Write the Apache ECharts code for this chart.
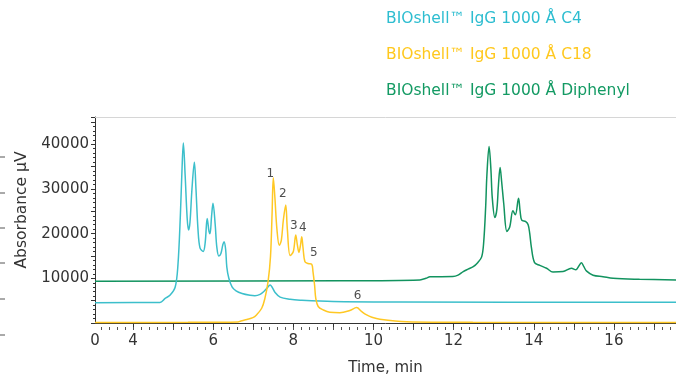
<!DOCTYPE html>
<html><head><meta charset="utf-8">
<script src="https://cdn.jsdelivr.net/npm/echarts@6/dist/echarts.min.js"></script>
<style>html,body{margin:0;padding:0;background:#fff}#c{width:676px;height:379px}</style>
</head><body><div id="c"></div>
<script>
// ---- data ----
const seriesNames = ['BIOshell™ IgG 1000 Å C4', 'BIOshell™ IgG 1000 Å C18', 'BIOshell™ IgG 1000 Å Diphenyl'];
const xTickLabels = [0, 4, 6, 8, 10, 12, 14, 16];
const yTickLabels = [10000, 20000, 30000, 40000];

const c4Time = [3.05,4.67,4.80,4.92,5.05,5.12,5.18,5.22,5.255,5.30,5.35,5.385,5.42,5.47,5.53,5.57,5.62,5.67,5.75,5.80,5.85,5.895,5.92,5.96,5.995,6.05,6.09,6.14,6.19,6.24,6.27,6.31,6.34,6.39,6.47,6.57,6.72,6.92,7.04,7.17,7.27,7.34,7.42,7.47,7.54,7.67,7.92,8.17,8.99,10.66,17.55];
const c4Abs = [4550,4600,5500,6200,8000,13000,24000,34000,40300,33000,23500,20800,22500,30000,36000,30000,21000,16800,16000,18000,23400,20500,20000,24000,26800,22000,17000,15000,15500,17500,18200,16500,12500,10000,8100,7200,6600,6200,6100,6400,7100,7800,8500,8000,6900,5800,5300,5100,4800,4700,4650];

const c18Time = [3.05,5.37,6.62,6.69,6.84,6.99,7.08,7.21,7.29,7.37,7.43,7.47,7.50,7.54,7.59,7.65,7.70,7.75,7.81,7.85,7.92,8.00,8.06,8.10,8.14,8.18,8.21,8.24,8.29,8.37,8.46,8.49,8.53,8.56,8.62,8.75,8.91,9.16,9.41,9.58,9.70,9.83,9.96,10.16,10.83,12.48,17.55];
const c18Abs = [100,150,250,450,800,1200,1800,3300,5500,9300,14900,24600,32500,28000,21000,17400,18500,23000,26400,21000,15100,16000,19700,17500,15800,17500,19300,17000,13700,13300,13100,11500,8500,5500,3700,2900,2400,2300,2800,3450,2600,1800,1300,850,300,160,130];
const peakNames = ['1','2','3','4','5','6'];
const peakIndex = [12, 18, 22, 26, 30, 39]; // indices into c18 arrays

const diTime = [3.05,9.16,11.16,11.31,11.41,11.98,12.11,12.24,12.36,12.49,12.60,12.70,12.75,12.80,12.83,12.885,12.93,12.965,13.03,13.08,13.12,13.16,13.20,13.25,13.33,13.40,13.48,13.54,13.62,13.66,13.70,13.80,13.86,13.90,13.94,14.02,14.15,14.32,14.48,14.73,14.94,15.05,15.13,15.19,15.25,15.32,15.48,15.73,15.98,16.64,17.55];
const diAbs = [9350,9450,9650,10000,10350,10400,10700,11500,12050,12600,13500,14800,18000,26000,33000,39500,34500,28000,23600,25500,31000,34800,31500,26800,20500,21500,25100,24200,27900,25000,23000,22700,22000,20000,17000,13500,12900,12250,11400,11500,12250,11900,12800,13500,12600,11600,10700,10360,10000,9780,9630];

// ---- styles ----
const colors = ['#3cbfcb', '#ffc824', '#12935f'];
const legendColors = ['#2dbdd0', '#ffc81e', '#139a63'];
const labelOffsets = [[-3,6],[-3,-2],[-2,0],[1,1],[2,-2],[1,-2]];
const FONT = 'DejaVu Sans';
const xMin = 3.05, xMax = 17.55;

function zip(a, b) { return a.map((v, i) => [v, b[i]]); }

const peakData = peakIndex.map((idx, k) => ({
  value: [c18Time[idx], c18Abs[idx]],
  label: { show: true, formatter: peakNames[k], position: 'top', distance: 3,
    offset: labelOffsets[k], color: '#222', fontSize: 12, fontFamily: FONT }
}));

const minorTicks = [];
for (let t = 3.2; t < xMax; t += 0.2) minorTicks.push(Math.round(t * 10) / 10);
const majorTicks = [];
for (let t = 4; t <= 17; t++) majorTicks.push(t);
const xLabelVals = xTickLabels.map(v => v === 0 ? xMin : v);

const chart = echarts.init(document.getElementById('c'), null, { renderer: 'canvas' });
chart.setOption({
  animation: false,
  textStyle: { fontFamily: FONT },
  grid: { left: 95, right: 0, top: 117, bottom: 56, containLabel: false, outerBoundsMode: 'none' },
  legend: {
    orient: 'vertical', left: 376, top: 5, itemWidth: 0, itemHeight: 0, itemGap: 18,
    icon: 'rect', selectedMode: false,
    textStyle: { fontSize: 15.5, fontFamily: FONT, lineHeight: 18 },
    data: seriesNames.map((n, i) => ({ name: n, textStyle: { color: legendColors[i] } }))
  },
  xAxis: [
    {
      type: 'value', min: xMin, max: xMax, offset: 4,
      name: 'Time, min', nameLocation: 'middle', nameGap: 34,
      nameTextStyle: { fontSize: 15, color: '#333', fontFamily: FONT },
      axisLine: { lineStyle: { color: '#333' } },
      axisTick: { customValues: majorTicks, length: 5, lineStyle: { color: '#333' } },
      axisLabel: { customValues: xLabelVals, formatter: v => (v < 3.5 ? '0' : String(v)),
        fontSize: 15, color: '#333', margin: 7, fontFamily: FONT },
      splitLine: { show: false }
    },
    {
      type: 'value', min: xMin, max: xMax, position: 'bottom', offset: 4,
      axisLine: { show: false },
      axisTick: { customValues: minorTicks, length: 3, lineStyle: { color: '#555' } },
      axisLabel: { show: false }, splitLine: { show: false }
    },
    {
      type: 'value', min: xMin, max: xMax, position: 'top',
      axisLine: { lineStyle: { color: '#d6d6d6' } },
      axisTick: { show: false }, axisLabel: { show: false }, splitLine: { show: false }
    }
  ],
  yAxis: {
    type: 'value', min: 0, max: 46100, interval: 5000,
    name: 'Absorbance μV', nameLocation: 'middle', nameGap: 47, nameRotate: 90,
    nameTextStyle: { fontSize: 15.5, color: '#333', fontFamily: FONT, padding: [0, 0, 0, 20] },
    axisLine: { show: true, lineStyle: { color: '#333' } },
    axisTick: { show: true, length: 4, lineStyle: { color: '#333' } },
    minorTick: { show: true, splitNumber: 5, length: 2, lineStyle: { color: '#333' } },
    axisLabel: { formatter: v => (yTickLabels.indexOf(v) >= 0 ? String(v) : ''),
      fontSize: 15, color: '#333', margin: 6, fontFamily: FONT },
    splitLine: { show: false }
  },
  graphic: [157, 193, 228, 263, 299, 335].map(y => ({
    type: 'line', shape: { x1: 0, y1: y, x2: 5, y2: y }, style: { stroke: '#555', lineWidth: 1 }
  })),
  series: [
    { name: seriesNames[2], type: 'line', data: zip(diTime, diAbs), showSymbol: false, symbol: 'none',
      smooth: 0.35, lineStyle: { color: colors[2], width: 1.5 }, itemStyle: { color: colors[2] } },
    { name: seriesNames[0], type: 'line', data: zip(c4Time, c4Abs), showSymbol: false, symbol: 'none',
      smooth: 0.35, lineStyle: { color: colors[0], width: 1.5 }, itemStyle: { color: colors[0] } },
    { name: seriesNames[1], type: 'line', data: zip(c18Time, c18Abs), showSymbol: false, symbol: 'none',
      smooth: 0.35, lineStyle: { color: colors[1], width: 1.5 }, itemStyle: { color: colors[1] } },
    { name: 'peaks', type: 'scatter', data: peakData, symbolSize: 1, silent: true,
      itemStyle: { color: 'rgba(0,0,0,0)' }, z: 5 }
  ]
});
</script></body></html>
